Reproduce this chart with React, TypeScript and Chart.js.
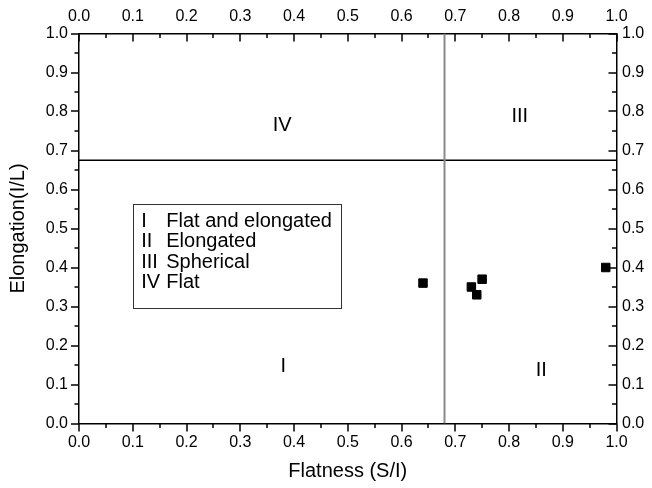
import React, { useEffect, useRef } from 'react';
import { Chart, registerables } from 'chart.js';

Chart.register(...registerables);

// ---- data ----
const flatness = [0.64, 0.73, 0.74, 0.75, 0.98];
const elongation = [0.36, 0.35, 0.33, 0.37, 0.4];
const flatnessLimit = 0.68;
const elongationLimit = 0.675;
const majorTicks = [0, 0.1, 0.2, 0.3, 0.4, 0.5, 0.6, 0.7, 0.8, 0.9, 1.0];
const minorTicks = [0.05, 0.15, 0.25, 0.35, 0.45, 0.55, 0.65, 0.75, 0.85, 0.95];
const regionNames = ['I', 'II', 'III', 'IV'];
const regionX = [0.38, 0.86, 0.82, 0.378];
const regionY = [0.147, 0.135, 0.786, 0.765];
const legendNumerals = ['I', 'II', 'III', 'IV'];
const legendTexts = ['Flat and elongated', 'Elongated', 'Spherical', 'Flat'];
const xTitle = 'Flatness (S/I)';
const yTitle = 'Elongation(I/L)';

const FONT = "'Liberation Sans', Arial, sans-serif";

const framePlugin = {
  id: 'frame',
  afterDatasetsDraw(chart: any) {
    const { ctx, chartArea } = chart;
    const xs = chart.scales.x;
    const ys = chart.scales.y;
    ctx.save();
    // region labels
    ctx.fillStyle = '#000';
    ctx.font = `20px ${FONT}`;
    ctx.textAlign = 'center';
    ctx.textBaseline = 'middle';
    regionNames.forEach((n, i) => {
      ctx.fillText(n, xs.getPixelForValue(regionX[i]), ys.getPixelForValue(regionY[i]));
    });
    // legend box
    const bx0 = xs.getPixelForValue(0.1);
    const bx1 = xs.getPixelForValue(0.4875);
    const by0 = ys.getPixelForValue(0.563);
    const by1 = ys.getPixelForValue(0.296);
    ctx.fillStyle = '#fff';
    ctx.fillRect(bx0, by0, bx1 - bx0, by1 - by0);
    ctx.strokeStyle = '#333';
    ctx.lineWidth = 1;
    ctx.strokeRect(Math.round(bx0) + 0.5, Math.round(by0) + 0.5, Math.round(bx1 - bx0), Math.round(by1 - by0));
    ctx.fillStyle = '#000';
    ctx.textAlign = 'left';
    const lineH = (by1 - by0) / 5.2;
    const nx = bx0 + 8.5;
    legendNumerals.forEach((n, i) => {
      const y = by0 + lineH * (0.9 + i);
      ctx.fillText(n, nx, y);
      const w = ctx.measureText(n).width;
      const dx = Math.max(nx + 25, nx + w + 5.5);
      ctx.fillText(legendTexts[i], dx, y);
    });
    // ticks
    ctx.strokeStyle = '#000';
    ctx.lineWidth = 1.5;
    const draw = (list: number[], len: number) => {
      list.forEach((v) => {
        const px = Math.round(xs.getPixelForValue(v)) + 0.0;
        const py = Math.round(ys.getPixelForValue(v)) + 0.0;
        ctx.beginPath();
        // bottom outward
        ctx.moveTo(px, chartArea.bottom);
        ctx.lineTo(px, chartArea.bottom + len);
        // top inward
        ctx.moveTo(px, chartArea.top);
        ctx.lineTo(px, chartArea.top + len);
        // left outward
        ctx.moveTo(chartArea.left, py);
        ctx.lineTo(chartArea.left - len, py);
        // right inward
        ctx.moveTo(chartArea.right, py);
        ctx.lineTo(chartArea.right - len, py);
        ctx.stroke();
      });
    };
    draw(majorTicks, 8);
    draw(minorTicks, 4.5);
    ctx.restore();
  },
};

const tickCfg = (padding: number) => ({
  min: 0,
  max: 1,
  stepSize: 0.1,
  autoSkip: false,
  maxRotation: 0,
  padding,
  color: '#000',
  font: { family: FONT, size: 16 },
  callback: (v: any) => Number(v).toFixed(1),
});

export default function App() {
  const ref = useRef<HTMLCanvasElement>(null);
  useEffect(() => {
    if (!ref.current) return;
    const chart = new Chart(ref.current, {
      type: 'scatter',
      data: {
        datasets: [
          {
            type: 'scatter',
            data: flatness.map((x, i) => ({ x, y: elongation[i] })),
            pointStyle: 'rect',
            pointRadius: 6,
            backgroundColor: '#000',
            borderColor: '#000',
            borderWidth: 1,
            xAxisID: 'x',
            yAxisID: 'y',
            order: 0,
          } as any,
          {
            type: 'line',
            data: [
              { x: flatnessLimit, y: 0 },
              { x: flatnessLimit, y: 1 },
            ],
            borderColor: '#8a8a8a',
            borderWidth: 2,
            pointRadius: 0,
            fill: false,
            xAxisID: 'x',
            yAxisID: 'y',
            order: 1,
          } as any,
          {
            type: 'line',
            data: [
              { x: 0, y: elongationLimit },
              { x: 1, y: elongationLimit },
            ],
            borderColor: '#000',
            borderWidth: 1.3,
            pointRadius: 0,
            fill: false,
            xAxisID: 'x',
            yAxisID: 'y',
            order: 1,
          } as any,
        ],
      },
      options: {
        responsive: false,
        animation: false,
        layout: { padding: 0 },
        plugins: { legend: { display: false }, tooltip: { enabled: false } },
        scales: {
          x: {
            type: 'linear',
            position: 'bottom',
            min: 0,
            max: 1,
            grid: { display: false, drawTicks: false },
            border: { display: true, color: '#000', width: 1.5 },
            ticks: tickCfg(9) as any,
            title: {
              display: true,
              text: xTitle,
              color: '#000',
              font: { family: FONT, size: 20 },
              padding: { top: 0, bottom: 5 },
            },
            afterFit: (s: any) => {
              s.height = 64.5;
            },
          },
          x2: {
            type: 'linear',
            position: 'top',
            axis: 'x',
            min: 0,
            max: 1,
            grid: { display: false, drawTicks: false },
            border: { display: true, color: '#000', width: 1.5 },
            ticks: tickCfg(7) as any,
            afterFit: (s: any) => {
              s.height = 33.5;
            },
          },
          y: {
            type: 'linear',
            position: 'left',
            min: 0,
            max: 1,
            grid: { display: false, drawTicks: false },
            border: { display: true, color: '#000', width: 1.5 },
            ticks: tickCfg(11) as any,
            title: {
              display: true,
              text: yTitle,
              color: '#000',
              font: { family: FONT, size: 20 },
              padding: { top: 6, bottom: 0 },
            },
            afterFit: (s: any) => {
              s.width = 79;
            },
          },
          y2: {
            type: 'linear',
            position: 'right',
            axis: 'y',
            min: 0,
            max: 1,
            grid: { display: false, drawTicks: false },
            border: { display: true, color: '#000', width: 1.5 },
            ticks: tickCfg(5.5) as any,
            afterFit: (s: any) => {
              s.width = 35.5;
            },
          },
        },
      } as any,
      plugins: [framePlugin],
    });
    return () => chart.destroy();
  }, []);
  return (
    <div style={{ position: 'absolute', left: 0, top: 0, width: 652, height: 488, background: '#fff' }}>
      <canvas ref={ref} width={652} height={488} style={{ display: 'block' }} />
    </div>
  );
}
